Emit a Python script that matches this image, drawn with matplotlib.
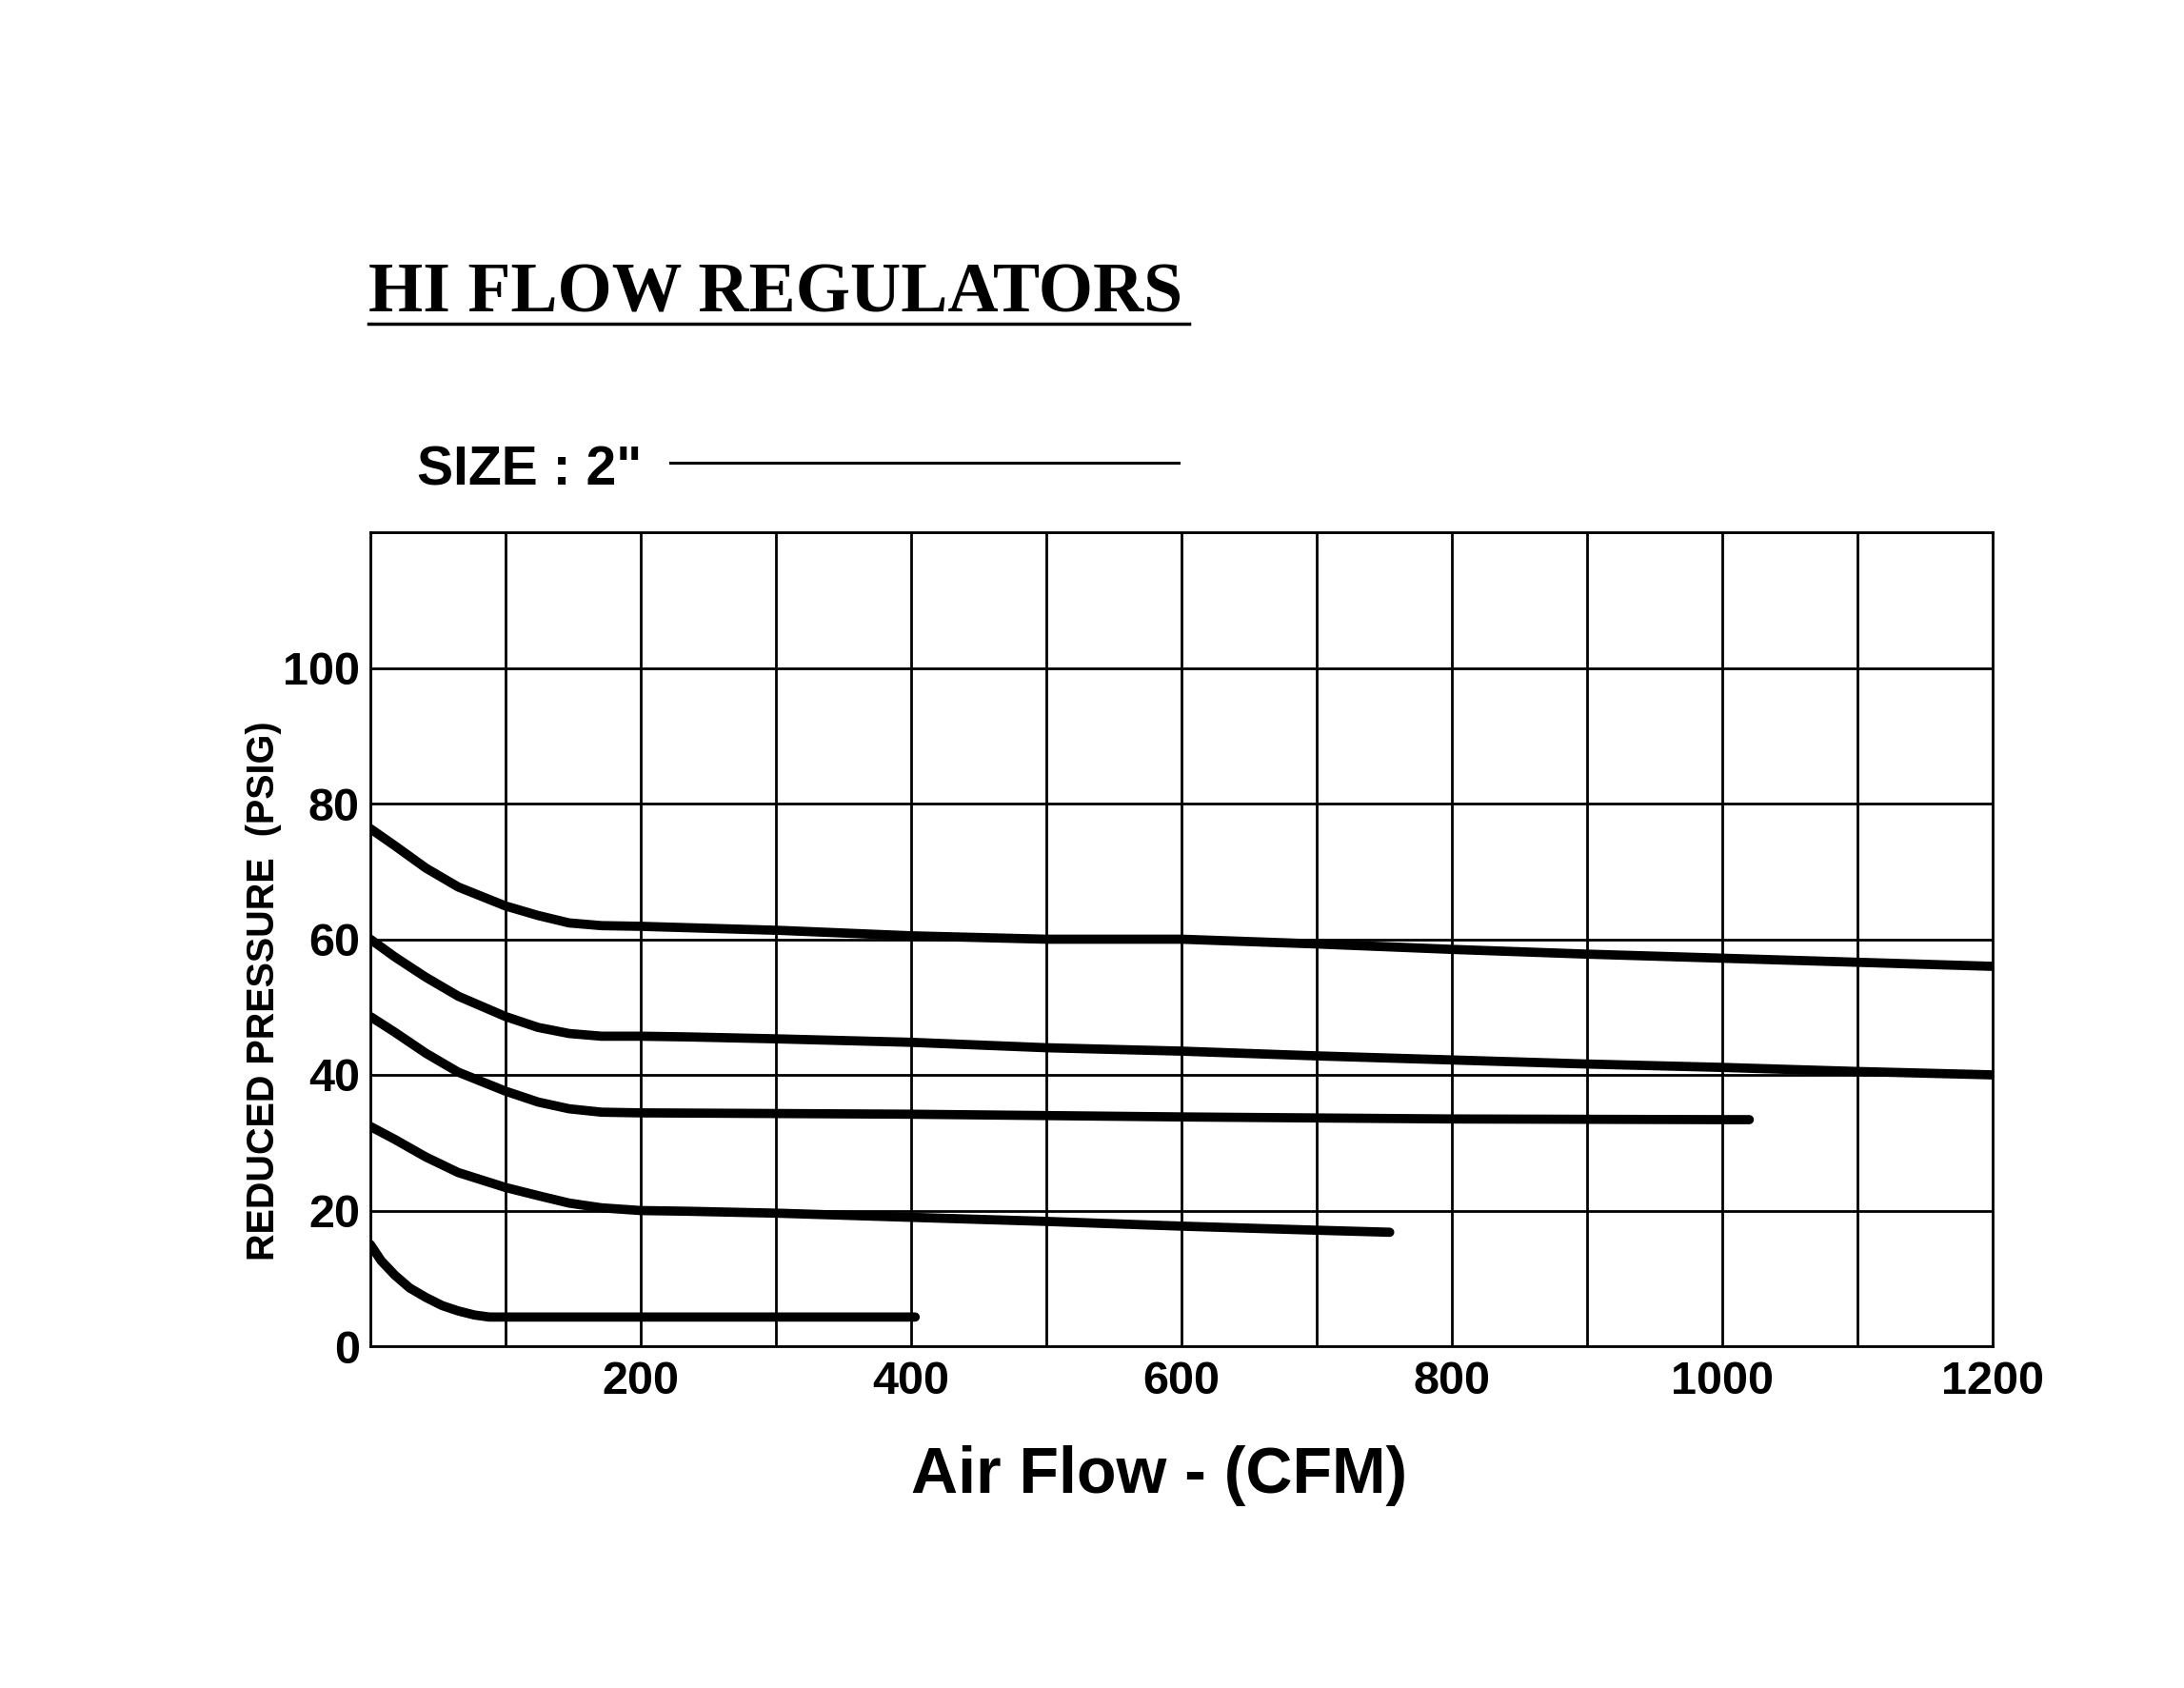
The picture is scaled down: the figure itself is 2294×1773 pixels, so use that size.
#!/usr/bin/env python3
"""Hi-flow regulator curve: reduced pressure vs air flow, size 2"."""

import matplotlib

matplotlib.use("Agg")
import matplotlib.pyplot as plt  # noqa: E402
from matplotlib.lines import Line2D  # noqa: E402

# curves (CFM, PSIG)
flow_a = [0, 18, 41, 65, 100, 124, 147, 171, 200, 234, 303, 400, 500, 600, 700, 800, 900, 1000, 1100, 1200]
psig_a = [76.3, 73.8, 70.5, 67.7, 64.9, 63.5, 62.4, 62.0, 61.9, 61.7, 61.3, 60.5, 60.0, 60.0, 59.3, 58.5, 57.8, 57.2, 56.6, 56.0]

flow_b = [0, 18, 41, 65, 100, 124, 147, 171, 200, 234, 303, 400, 500, 600, 700, 800, 900, 1000, 1100, 1200]
psig_b = [60.0, 57.4, 54.4, 51.6, 48.6, 47.0, 46.1, 45.7, 45.7, 45.6, 45.3, 44.8, 44.0, 43.5, 42.8, 42.2, 41.6, 41.1, 40.5, 40.0]

flow_c = [0, 18, 41, 65, 100, 124, 147, 171, 200, 303, 400, 600, 800, 1000, 1020]
psig_c = [48.6, 46.3, 43.2, 40.4, 37.6, 36.0, 35.0, 34.5, 34.4, 34.3, 34.2, 33.8, 33.5, 33.4, 33.4]

flow_d = [0, 18, 41, 65, 100, 124, 147, 171, 200, 234, 303, 400, 500, 600, 700, 754]
psig_d = [32.4, 30.5, 27.9, 25.6, 23.4, 22.2, 21.1, 20.4, 20.0, 19.9, 19.6, 19.0, 18.4, 17.7, 17.1, 16.8]

flow_e = [0, 8, 18, 29, 41, 53, 65, 77, 88, 100, 403]
psig_e = [15.0, 12.6, 10.5, 8.6, 7.2, 6.0, 5.2, 4.6, 4.3, 4.3, 4.3]

x_ticks = list(range(0, 1300, 100))
x_labels = ["", "", "200", "", "400", "", "600", "", "800", "", "1000", "", "1200"]
y_ticks = [0, 20, 40, 60, 80, 100, 120]
y_labels = ["0", "20", "40", "60", "80", "100", ""]

W, H = 2294, 1773


def main() -> int:
    plt.rcParams["font.family"] = ["Liberation Sans", "DejaVu Sans"]
    plt.rcParams["font.weight"] = "bold"

    fig = plt.figure(figsize=(W / 100, H / 100), dpi=100)
    ax = fig.add_axes([389 / W, 1 - 1414 / H, 1704 / W, 855 / H])

    for fx, py in [(flow_a, psig_a), (flow_b, psig_b), (flow_c, psig_c),
                   (flow_d, psig_d), (flow_e, psig_e)]:
        ax.plot(fx, py, color="black", lw=7, solid_capstyle="round",
                solid_joinstyle="round", zorder=3)

    ax.set_xlim(0, 1200)
    ax.set_ylim(0, 120)
    ax.set_xticks(x_ticks)
    ax.set_xticklabels(x_labels, fontsize=35, fontweight="bold")
    ax.set_yticks(y_ticks)
    ax.set_yticklabels(y_labels, fontsize=35, fontweight="bold")
    ax.tick_params(length=0)
    ax.tick_params(axis="x", pad=11)
    ax.tick_params(axis="y", pad=8)
    ax.grid(True, color="black", lw=2)
    for sp in ax.spines.values():
        sp.set_linewidth(2)

    ax.set_ylabel("REDUCED PRESSURE  (PSIG)", fontsize=28.5, fontweight="bold")
    ax.yaxis.set_label_coords(-0.0658, 0.437)
    ax.yaxis.label.set_verticalalignment("center")

    ax.set_xlabel("Air Flow - (CFM)", fontsize=49, fontweight="bold")
    ax.xaxis.set_label_coords(0.4865, -0.180)
    ax.xaxis.label.set_verticalalignment("baseline")

    fig.text(387 / W, 1 - 327 / H, "HI FLOW REGULATORS", family="Liberation Serif",
             fontsize=53, fontweight="bold", va="baseline", ha="left")
    fig.add_artist(Line2D([387 / W, 1249 / W], [1 - 340 / H] * 2, color="black",
                          lw=2.5, transform=fig.transFigure))

    fig.text(438 / W, 1 - 510 / H, 'SIZE : 2"', fontsize=41, fontweight="bold",
             va="baseline", ha="left")
    fig.add_artist(Line2D([704 / W, 1238 / W], [1 - 486 / H] * 2, color="black",
                          lw=2.2, transform=fig.transFigure))

    fig.savefig("out.png", dpi=100)
    return 0


if __name__ == "__main__":
    raise SystemExit(main())
